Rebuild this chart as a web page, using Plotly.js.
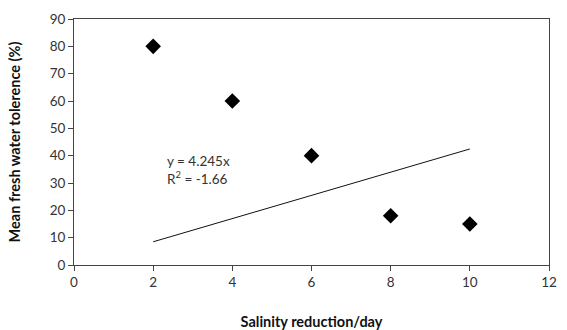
<!DOCTYPE html>
<html>
<head>
<meta charset="utf-8">
<script src="https://cdn.plot.ly/plotly-3.0.1.min.js"></script>
<style>html,body{margin:0;padding:0;background:#fff;}#chart{width:567px;height:330px;}</style>
</head>
<body>
<div id="chart"></div>
<script>
const xValues = [2, 4, 6, 8, 10];
const yValues = [80, 60, 40, 18, 15];
const slope = 4.245;
const trendX = [2, 10];
const trendY = trendX.map(x => slope * x);
const equationText = "y = 4.245x<br>R<sup>2</sup> = -1.66";

const font = "Lato, 'Open Sans', sans-serif";

const data = [
  {
    x: trendX, y: trendY, mode: 'lines', type: 'scatter',
    line: {color: '#111', width: 1}, hoverinfo: 'skip', showlegend: false
  },
  {
    x: xValues, y: yValues, mode: 'markers', type: 'scatter',
    marker: {symbol: 'diamond', size: 12, color: '#000'}, showlegend: false
  }
];

const layout = {
  width: 567, height: 330,
  margin: {l: 74, r: 18, t: 19, b: 65},
  paper_bgcolor: '#fff', plot_bgcolor: '#fff',
  font: {family: font, size: 13, color: '#333'},
  xaxis: {
    range: [0, 12], dtick: 2, tick0: 0,
    showgrid: false, zeroline: false,
    showline: true, linecolor: '#444', linewidth: 1, mirror: true,
    ticks: 'outside', ticklen: 5, tickcolor: '#444',
    tickfont: {size: 13.5, color: '#333'},
    title: {text: '<b>Salinity reduction/day</b>', font: {size: 14.5, color: '#111'}, standoff: 27}
  },
  yaxis: {
    range: [0, 90], dtick: 10, tick0: 0,
    showgrid: false, zeroline: false,
    showline: true, linecolor: '#444', linewidth: 1, mirror: true,
    ticks: 'outside', ticklen: 5, tickcolor: '#444',
    tickfont: {size: 13.5, color: '#333'},
    title: {text: '<b>Mean fresh water tolerence (%)</b>', font: {size: 14.5, color: '#111'}, standoff: 25}
  },
  annotations: [{
    x: 2.3, y: 34.7, xref: 'x', yref: 'y', xanchor: 'left', yanchor: 'middle',
    text: equationText, showarrow: false, align: 'left',
    font: {size: 13.5, color: '#333', family: font}
  }]
};

Plotly.newPlot('chart', data, layout, {displayModeBar: false, staticPlot: true});
</script>
</body>
</html>
